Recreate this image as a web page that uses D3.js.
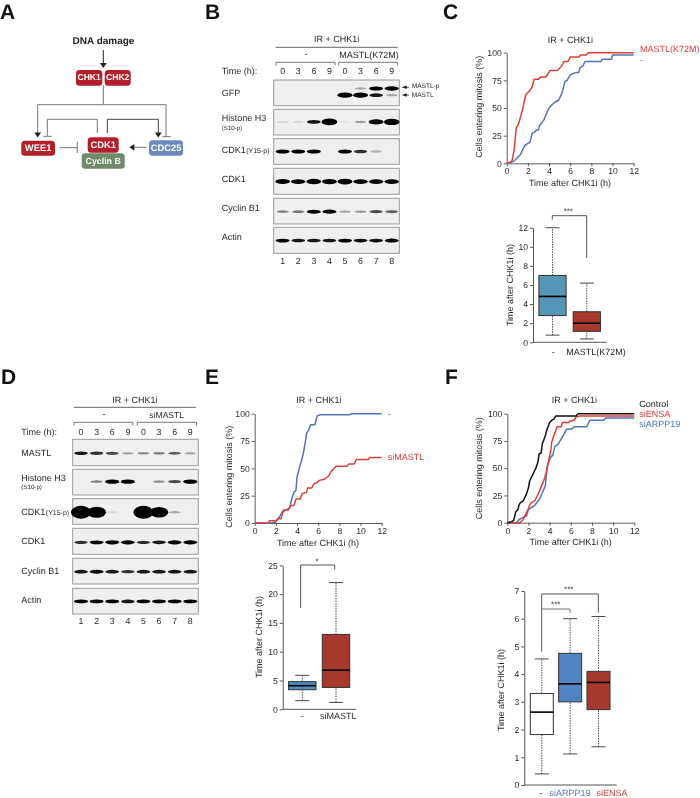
<!DOCTYPE html>
<html><head><meta charset="utf-8">
<style>html,body{margin:0;padding:0;background:#fff}svg{display:block;filter:blur(0.3px)}text{font-family:"Liberation Sans",Arial,sans-serif;fill:#2a2a2a;text-rendering:geometricPrecision}</style>
<script src="https://cdnjs.cloudflare.com/ajax/libs/d3/7.8.5/d3.min.js"></script>
</head><body><svg id="c" width="700" height="798"></svg>
<script>
// ---------- data ----------
const lanesB = ["0","3","6","9","0","3","6","9"];
const laneNumbers = ["1","2","3","4","5","6","7","8"];
// western blot band signal per lane (arbitrary densitometry units)
const bGFPlow = [0,0,0,0,2.0,1.8,0.9,0.3];
const bGFPup  = [0,0,0,0,0,0.3,1.1,1.4];
const bH3     = [0.1,0.1,0.9,2.8,0.06,0.35,1.9,2.6];
const bY15    = [1.2,1.1,1.2,0,1.1,0.8,0.25,0];
const bCDK1   = [1.8,1.6,2.0,1.9,2.2,1.6,1.6,1.6];
const bCycB   = [0.45,0.5,1.1,1.2,0.3,0.35,0.7,0.6];
const bActin  = [1,0.9,0.9,0.9,1,0.95,0.95,1.1];
const dMASTL  = [0.9,0.8,0.7,0.3,0.4,0.45,0.6,0.3];
const dH3     = [0,0.45,1.4,1.4,0,0.4,0.7,1.3];
const dY15    = [5,4.4,0.1,0,5,4.2,0.3,0];
const dCDK1   = [0.8,1,1.3,1.2,0.8,0.9,1.2,1.2];
const dCycB   = [0.9,1.1,0.9,0.8,0.9,0.9,0.9,0.9];
const dActin  = [1,1,1,0.9,1,1,1,1];
const cRed = [[0,0],[0.3,1],[0.5,2],[0.7,12],[0.9,32],[1.1,35],[1.4,45],[1.6,53],[1.8,62],[2.2,66],[2.4,69],[2.6,76],[3,76],[3.2,78],[3.7,78],[4.1,84],[4.8,84],[5.2,88],[5.4,92],[5.8,92],[6,96],[6.8,96],[7,98],[7.5,98],[7.7,100],[12,100]];
const cBlue = [[0,0],[0.4,1],[0.7,2],[1,5],[1.3,8],[1.7,16],[2,18],[2.2,19],[2.4,27],[2.6,28],[2.8,30],[3,30],[3.1,34],[3.5,39],[3.8,46],[4,50],[4.2,52],[4.5,55],[4.9,57],[5.2,63],[5.4,70],[5.5,74],[5.7,75],[6,80],[6.5,82],[6.8,82],[6.9,86],[7.2,88],[7.4,92],[8.9,92],[9,94],[9.9,94],[10,98],[12,98]];
const eBlue = [[0,0],[1.5,0],[2,1],[2.3,5],[2.6,10],[3,12],[3.3,14],[3.5,22],[3.7,28],[3.9,30],[4,42],[4.2,50],[4.4,56],[4.6,64],[4.8,75],[4.9,82],[5.1,85],[5.3,90],[5.7,90],[5.9,98],[6.2,99],[8.9,99],[9.2,100],[12,100]];
const eRed = [[0,0],[1.3,0],[1.4,2],[2,2],[2.2,4],[2.5,4],[2.7,12],[3.2,12],[3.4,16],[3.7,16],[3.9,22],[4.3,22],[4.5,27],[4.9,28],[5,32],[5.4,32],[5.6,36],[5.9,37],[6.1,39],[6.6,40],[7,43],[7.2,47],[7.7,52],[8.7,52],[8.9,54],[9.4,54],[9.6,58],[10.7,58],[10.9,60],[12,60]];
const fBlack = [[0,0],[0.4,1],[0.6,2],[0.7,6],[0.8,10],[1,12],[1.1,16],[1.2,18],[1.5,20],[1.8,26],[2,32],[2.1,38],[2.4,44],[2.7,50],[2.9,56],[3,63],[3.2,64],[3.3,72],[3.6,80],[3.7,84],[4,92],[4.2,94],[4.4,95],[4.6,98],[6.5,98],[6.7,100],[12,100]];
const fRed = [[0,0],[1.2,0],[1.5,3],[1.8,9],[2,13],[2.2,18],[2.6,20],[2.8,24],[3,28],[3.2,33],[3.5,40],[3.7,47],[3.9,56],[4.1,66],[4.2,74],[4.4,80],[4.6,85],[4.7,88],[5.1,88],[5.2,92],[5.8,92],[5.9,93],[6.3,94],[6.5,97],[6.9,98],[12,98]];
const fBlue = [[0,0],[0.9,0],[1,2],[1.3,4],[1.8,6],[2,12],[2.3,14],[2.6,16],[3,21],[3.3,27],[3.6,34],[3.7,45],[3.8,53],[4.1,60],[4.3,62],[4.5,70],[4.8,72],[5.1,77],[5.4,82],[5.6,86],[6.1,86],[6.3,88],[7.5,88],[7.8,94],[9.1,94],[9.3,96],[12,96]];
const xTicks = [0,2,4,6,8,10,12];
const pctTicks = [0,25,50,75,100];
// box stats: [low whisker, q1, median, q3, high whisker]
const boxC = [[0.75,2.8,4.8,7,12],[0.35,1.15,2,3.2,6.2]];
const boxE = [[1.5,3.4,4.1,4.8,5.9],[1.2,3.8,6.8,13,22]];
const boxF = [[0.4,1.82,2.63,3.3,4.55],[1.12,3,3.65,4.75,6],[1.38,2.72,3.7,4.1,6.08]];
const boxCTicks = [0,2,4,6,8,10,12];
const boxETicks = [0,5,10,15,20,25];
const boxFTicks = [0,1,2,3,4,5,6,7];

// ---------- helpers ----------
const svg = d3.select("#c");
const defs = svg.append("defs");
defs.append("filter").attr("id","blur").attr("x","-40%").attr("y","-80%").attr("width","180%").attr("height","260%")
  .append("feGaussianBlur").attr("stdDeviation","0.65");
const fmt = d3.format("d");
function text(x,y,s,o={}){
  const t = svg.append("text").attr("x",x).attr("y",y).text(s)
    .attr("font-size",o.size||9).attr("text-anchor",o.anchor||"start").attr("dominant-baseline",o.baseline||"middle");
  if(o.fill) t.style("fill",o.fill);
  if(o.weight) t.attr("font-weight",o.weight);
  if(o.rotate) t.attr("transform",`rotate(-90 ${x} ${y})`);
  return t;
}
function path(pts,color,w,o={}){
  const p = svg.append("path").attr("d",d3.line()(pts)).attr("fill","none").attr("stroke",color).attr("stroke-width",w);
  if(o.dash) p.attr("stroke-dasharray",o.dash);
  return p;
}
function head(x,y,dir,color="#222",s=3.4){
  const d = {down:[[x-s,y-5],[x+s,y-5],[x,y]],left:[[x+5,y-s],[x+5,y+s],[x,y]]}[dir];
  svg.append("path").attr("d",d3.line()(d)+"Z").attr("fill",color);
}
const opacity = d3.scaleLinear().domain([0,1]).range([0,1]).clamp(true);
const thick = d3.scaleLinear().domain([0,1,3,5]).range([1.8,3.8,7,13]);
const wide = d3.scaleLinear().domain([0,1,3,5]).range([10.5,14,16,20]);
function blot(x0,x1,y0,y1,lanes,series){
  svg.append("rect").attr("x",x0).attr("y",y0).attr("width",x1-x0).attr("height",y1-y0)
    .attr("fill","#efefef").attr("stroke","#9a9a9a").attr("stroke-width",1);
  const ys = d3.scaleLinear().domain([0,1]).range([y0,y1]);
  series.forEach(([vals,frac])=>{
    const g = svg.append("g").attr("filter","url(#blur)");
    vals.forEach((v,i)=>{
      if(v<=0) return;
      g.append("ellipse").attr("cx",lanes(i)).attr("cy",ys(frac)).attr("rx",wide(v)/2).attr("ry",thick(v)/2)
        .attr("fill","#050505").attr("opacity",opacity(v));
    });
  });
}
function lineChart(x0,x1,yTop,yBot,series){
  const x = d3.scaleLinear().domain([0,12]).range([x0,x1]);
  const y = d3.scaleLinear().domain([0,100]).range([yBot,yTop]);
  const ax = svg.append("g").attr("transform",`translate(0,${yBot})`).call(d3.axisBottom(x).tickValues(xTicks).tickFormat(fmt).tickSize(3).tickSizeOuter(0).tickPadding(2));
  const ay = svg.append("g").attr("transform",`translate(${x0},0)`).call(d3.axisLeft(y).tickValues(pctTicks).tickFormat(fmt).tickSize(3).tickSizeOuter(0).tickPadding(2));
  [ax,ay].forEach(a=>{a.selectAll("text").attr("font-size",8.6);a.selectAll("path,line").attr("stroke","#333").attr("stroke-width",0.8);});
  const ln = d3.line().x(d=>x(d[0])).y(d=>y(d[1]));
  series.forEach(([d,c])=>svg.append("path").attr("d",ln(d)).attr("fill","none").attr("stroke",c).attr("stroke-width",1.5).attr("stroke-linejoin","round"));
}
function boxPlot(axisX,baseEnd,yTop,yBot,domMax,ticks,stats,centers,halfW,colors){
  const y = d3.scaleLinear().domain([0,domMax]).range([yBot,yTop]);
  const ay = svg.append("g").attr("transform",`translate(${axisX},0)`).call(d3.axisLeft(y).tickValues(ticks).tickFormat(fmt).tickSize(3).tickSizeOuter(0).tickPadding(2));
  ay.selectAll("text").attr("font-size",8.6);
  ay.selectAll("path,line").attr("stroke","#444").attr("stroke-width",0.9);
  path([[axisX,yBot],[baseEnd,yBot]],"#555",1);
  stats.forEach((s,i)=>{
    const c = centers(i);
    path([[c,y(s[0])],[c,y(s[1])]],"#333",0.9,{dash:"1.4 1.1"});
    path([[c,y(s[3])],[c,y(s[4])]],"#333",0.9,{dash:"1.4 1.1"});
    [s[0],s[4]].forEach(v=>path([[c-7,y(v)],[c+7,y(v)]],"#333",0.9));
    svg.append("rect").attr("x",c-halfW).attr("y",y(s[3])).attr("width",2*halfW).attr("height",y(s[1])-y(s[3]))
      .attr("fill",colors[i]).attr("stroke","#333").attr("stroke-width",1);
    path([[c-halfW,y(s[2])],[c+halfW,y(s[2])]],"#000",1.6);
  });
}
function bracket(xl,yl,xr,yr,yt,c="#555"){ path([[xl,yl],[xl,yt],[xr,yt],[xr,yr]],c,1); }
function topBrace(x0,x1,y,h){ path([[x0,y+h],[x0,y],[x1,y],[x1,y+h]],"#555",0.8); }

// panel letters
[["A",0,19],["B",205,19],["C",443,19],["D",1,384],["E",205,384],["F",445,384]]
  .forEach(([s,x,y])=>text(x,y,s,{size:21,weight:"bold",fill:"#111",baseline:"alphabetic"}));

// ---------- panel A ----------
const RED="#b3202c", GRN="#6f8b68", BLU="#6a8cbd";
function node(x0,x1,y0,y1,c,s,size=8.6){
  svg.append("rect").attr("x",x0).attr("y",y0).attr("width",x1-x0).attr("height",y1-y0).attr("rx",3.5).attr("fill",c);
  text((x0+x1)/2,(y0+y1)/2+0.3,s,{size,weight:"bold",anchor:"middle",fill:"#fff"});
}
text(103.5,41,"DNA damage",{size:10,weight:"bold",anchor:"middle",fill:"#222"});
path([[103.3,50],[103.3,64]],"#222",1); head(103.3,68,"down");
const G="#777";
path([[103.3,85],[103.3,104.7]],G,1);
path([[37.7,133],[37.7,104.7],[166,104.7],[166,136.7]],G,1);
head(37.7,137.5,"down");
path([[162.3,136.7],[170.7,136.7]],G,1);
path([[47.3,136],[47.3,119.3],[97.3,119.3],[97.3,133]],G,1);
path([[43.3,136.3],[51.7,136.3]],G,1);
path([[107.3,133],[107.3,119.3],[158.3,119.3],[158.3,133]],"#444",1);
head(158.3,137.5,"down");
path([[59.3,147.7],[77.3,147.7]],G,1);
path([[77.3,141.7],[77.3,153]],G,1);
path([[146.7,147.3],[134,147.3]],G,1); head(129.3,147.3,"left","#222");
node(76,102.3,70,85.7,RED,"CHK1");
node(104.7,130.7,70,85.7,RED,"CHK2");
node(21.3,55,140.7,155.7,RED,"WEE1",9.4);
node(87.7,118.7,137.3,152.7,RED,"CDK1",9.4);
node(81.7,124.7,153.3,168.7,GRN,"Cyclin B",8.8);
node(149,183,140.3,155.7,BLU,"CDC25",9.4);

// ---------- panel B ----------
const laneB = d3.scaleLinear().domain([0,7]).range([282.7,391.7]);
text(336.7,40,"IR + CHK1i",{anchor:"middle"});
path([[275.7,47.3],[397.7,47.3]],"#555",0.9);
text(306,55,"-",{anchor:"middle"});
text(369,55.5,"MASTL(K72M)",{anchor:"middle"});
topBrace(276,335,62.3,3.2); topBrace(338.7,397.7,62.3,3.2);
text(221.7,71.7,"Time (h):");
lanesB.forEach((s,i)=>text(laneB(i),71.7,s,{anchor:"middle",size:8.8}));
blot(273.7,399.3,80,105.7,laneB,[[bGFPup,0.33],[bGFPlow,0.59]]);
blot(273.7,399.3,109.3,135,laneB,[[bH3,0.49]]);
blot(273.7,399.3,138.7,164.3,laneB,[[bY15,0.5]]);
blot(273.7,399.3,168.3,194.3,laneB,[[bCDK1,0.51]]);
blot(273.7,399.3,198.3,224,laneB,[[bCycB,0.52]]);
blot(273.7,399.3,227.3,253.3,laneB,[[bActin,0.51]]);
laneNumbers.forEach((s,i)=>text(laneB(i),261.7,s,{anchor:"middle",size:8.8}));
text(221.7,94,"GFP"); text(221.7,118.7,"Histone H3"); text(221.7,128,"(S10-p)",{size:6.2});
text(221.7,151,"CDK1"); text(246.2,151.5,"(Y15-p)",{size:7});
text(221.7,180,"CDK1"); text(221.7,208.7,"Cyclin B1"); text(221.7,237.3,"Actin");
text(411.7,86.7,"MASTL-p",{size:6.6}); text(411.7,95,"MASTL",{size:6.6});
[87.3,95].forEach(y=>{path([[404,y],[409,y]],"#222",0.8);head(401.7,y,"left","#222",1.7);});

// ---------- panel D ----------
const laneD = d3.scaleLinear().domain([0,7]).range([81,190.3]);
text(135,400.7,"IR + CHK1i",{anchor:"middle"});
path([[74,407.3],[196,407.3]],"#555",0.9);
text(104,415,"-",{anchor:"middle"});
text(166.7,416,"siMASTL",{anchor:"middle",size:8.6});
topBrace(74,133,422.3,3.2); topBrace(137.3,196.5,422.3,3.2);
text(21.3,432.3,"Time (h):");
lanesB.forEach((s,i)=>text(laneD(i),432.3,s,{anchor:"middle",size:8.8}));
blot(72.7,198.3,439.3,465.7,laneD,[[dMASTL,0.53]]);
blot(72.7,198.3,469.3,495,laneD,[[dH3,0.48]]);
blot(72.7,198.3,498.7,524.3,laneD,[[dY15,0.53]]);
blot(72.7,198.3,528.3,554.3,laneD,[[dCDK1,0.54]]);
blot(72.7,198.3,558.3,584,laneD,[[dCycB,0.52]]);
blot(72.7,198.3,588.3,614,laneD,[[dActin,0.51]]);
laneNumbers.forEach((s,i)=>text(laneD(i),621.7,s,{anchor:"middle",size:8.8}));
text(21.3,454,"MASTL"); text(21.3,478.3,"Histone H3"); text(21.3,487.7,"(S10-p)",{size:6.2});
text(21.3,512.3,"CDK1"); text(45.8,512.8,"(Y15-p)",{size:7});
text(21.3,541.7,"CDK1"); text(21.3,571.3,"Cyclin B1"); text(21.3,600.7,"Actin");

// ---------- line charts ----------
const LRED="#de4034", LBLU="#5174bf";
lineChart(506.7,633.7,52.7,163.3,[[cBlue,LBLU],[cRed,LRED]]);
text(570.3,40.7,"IR + CHK1i",{anchor:"middle"});
text(570,184,"Time after CHK1i (h)",{anchor:"middle"});
text(480,106.7,"Cells entering mitosis (%)",{anchor:"middle",rotate:true});
text(640,49.7,"MASTL(K72M)",{fill:"#d9403a"}); text(640,61,"-",{fill:LBLU});

lineChart(254.7,381.7,413.7,523,[[eBlue,LBLU],[eRed,LRED]]);
text(319,401,"IR + CHK1i",{anchor:"middle"});
text(318,544,"Time after CHK1i (h)",{anchor:"middle"});
text(230,476.7,"Cells entering mitosis (%)",{anchor:"middle",rotate:true});
text(387.7,414.3,"-",{fill:LBLU}); text(387.7,457.3,"siMASTL",{fill:"#d9403a"});

lineChart(507.3,634.3,413.7,522.7,[[fBlue,LBLU],[fRed,LRED],[fBlack,"#111"]]);
text(574.3,401,"IR + CHK1i",{anchor:"middle"});
text(570.7,542.7,"Time after CHK1i (h)",{anchor:"middle"});
text(480,468.3,"Cells entering mitosis (%)",{anchor:"middle",rotate:true});
text(639.3,405,"Control",{fill:"#222"}); text(639.3,415,"siENSA",{fill:"#d9403a"}); text(639.3,425,"siARPP19",{fill:LBLU});

// ---------- box plots ----------
const BOXR="#a8392e";
boxPlot(533,606.7,227.7,342.3,12,boxCTicks,boxC,d3.scaleLinear().domain([0,1]).range([552.5,586.8]),13.6,["#5496b6",BOXR]);
bracket(552.3,219.5,586.7,258,215.7);
text(568.3,212,"***",{anchor:"middle",size:8});
text(510.7,285,"Time after CHK1i (h)",{anchor:"middle",rotate:true});
text(553.3,352.7,"-",{anchor:"middle"}); text(596,352.7,"MASTL(K72M)",{anchor:"middle"});

boxPlot(282.7,356,565.3,709.3,25,boxETicks,boxE,d3.scaleLinear().domain([0,1]).range([302.3,336]),13.7,["#4a8fbf",BOXR]);
bracket(300.7,608,334.7,569.3,565);
text(317,561.5,"*",{anchor:"middle",size:8});
text(260,637,"Time after CHK1i (h)",{anchor:"middle",rotate:true});
text(302.3,717,"-",{anchor:"middle"}); text(338.3,717,"siMASTL",{anchor:"middle"});

boxPlot(524.3,616.7,591,785,7,boxFTicks,boxF,d3.scaleLinear().domain([0,2]).range([541.8,598.5]),11.5,["#ffffff","#5284c4",BOXR]);
bracket(541.7,651.7,598.3,612.7,594);
bracket(541.7,609,570,612.7,609,"#777");
text(568.7,590,"***",{anchor:"middle",size:8});
text(555.7,605,"***",{anchor:"middle",size:8});
text(501.7,690,"Time after CHK1i (h)",{anchor:"middle",rotate:true});
text(540.7,794,"-",{anchor:"middle"});
text(570,794,"siARPP19",{anchor:"middle",fill:"#5a7cc0"});
text(612,794,"siENSA",{anchor:"middle",fill:"#c8403a"});
</script></body></html>
